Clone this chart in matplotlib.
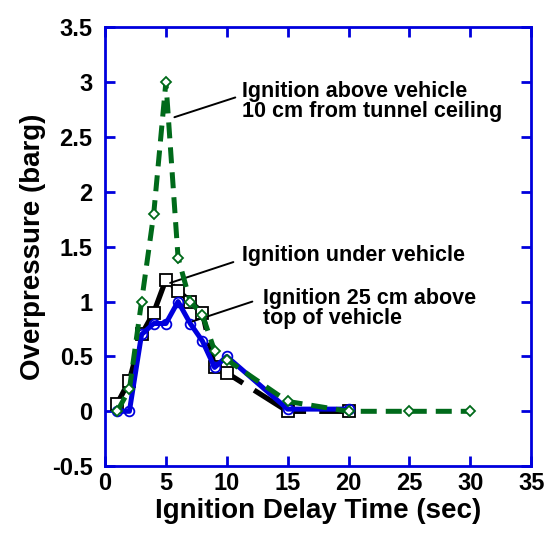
import matplotlib
matplotlib.use("Agg")
import matplotlib.pyplot as plt

plt.rcParams['font.family'] = ['Liberation Sans', 'DejaVu Sans']
plt.rcParams['font.weight'] = 'bold'

# Data
x_ceiling = [1, 2, 3, 4, 5, 6, 7, 8, 9, 10, 15, 20, 25, 30]
y_ceiling = [0.0, 0.2, 1.0, 1.8, 3.0, 1.4, 1.0, 0.88, 0.55, 0.47, 0.09, 0.0, 0.0, 0.0]

x_under = [1, 2, 3, 4, 5, 6, 7, 8, 9, 10, 15, 20]
y_under = [0.07, 0.28, 0.7, 0.9, 1.2, 1.1, 1.0, 0.9, 0.4, 0.35, 0.0, 0.0]

x_top = [1, 2, 3, 4, 5, 6, 7, 8, 9, 10, 15, 20]
y_top = [0.0, 0.0, 0.7, 0.8, 0.8, 1.0, 0.8, 0.64, 0.4, 0.5, 0.02, 0.02]

labels = ["Ignition above vehicle\n10 cm from tunnel ceiling",
          "Ignition under vehicle",
          "Ignition 25 cm above\ntop of vehicle"]

fig = plt.figure(figsize=(5.47, 5.34), dpi=100)
ax = fig.add_axes([0.192, 0.127, 0.779, 0.822])

blue = '#0000dd'
green = '#006a1a'

ax.plot(x_top, y_top, color=blue, lw=3.6, marker='o', ms=7, mfc='none',
        mec=blue, mew=1.3, zorder=3)
ax.plot(x_under, y_under, color='black', lw=3.8, dashes=(11, 2.5), marker='s',
        ms=8, mfc='white', mec='black', mew=1.3, zorder=2)
ax.plot(x_ceiling, y_ceiling, color=green, lw=3.6, dashes=(3.2, 1.8), marker='D',
        ms=5, mfc='white', mec=green, mew=1.3, zorder=4)

ax.set_xlim(0, 35)
ax.set_ylim(-0.5, 3.5)
ax.set_xticks(range(0, 36, 5))
ax.set_yticks([-0.5, 0, 0.5, 1, 1.5, 2, 2.5, 3, 3.5])
ax.set_yticklabels(['-0.5', '0', '0.5', '1', '1.5', '2', '2.5', '3', '3.5'])

for sp in ax.spines.values():
    sp.set_color(blue)
    sp.set_linewidth(2.0)
ax.tick_params(direction='in', length=7, width=2.0, color=blue,
               top=True, right=True, labelsize=17)
ax.tick_params(axis='y', pad=9)
ax.tick_params(axis='x', pad=4)
for lab in ax.get_xticklabels() + ax.get_yticklabels():
    lab.set_fontweight('bold')

ax.set_xlabel("Ignition Delay Time (sec)", fontsize=20, fontweight='bold', labelpad=2)
ax.set_ylabel("Overpressure (barg)", fontsize=20, fontweight='bold', labelpad=4)

# annotation leader lines
ax.annotate('', xy=(5.7, 2.68), xytext=(10.7, 2.86),
            arrowprops=dict(arrowstyle='-', color='black', lw=1.4,
                            shrinkA=0, shrinkB=0))
ax.annotate('', xy=(5.35, 1.17), xytext=(10.54, 1.36),
            arrowprops=dict(arrowstyle='-', color='black', lw=1.4,
                            shrinkA=0, shrinkB=0))
ax.annotate('', xy=(7.2, 0.82), xytext=(12.1, 1.0),
            arrowprops=dict(arrowstyle='-', color='black', lw=1.4,
                            shrinkA=0, shrinkB=0))

ax.text(11.26, 2.82, labels[0], fontsize=15.5, fontweight='bold',
        ha='left', va='center', linespacing=0.95)
ax.text(11.26, 1.42, labels[1], fontsize=15.5, fontweight='bold',
        ha='left', va='center')
ax.text(13.0, 0.94, labels[2], fontsize=15.5, fontweight='bold',
        ha='left', va='center', linespacing=0.95)

fig.savefig("out.png", dpi=100)
